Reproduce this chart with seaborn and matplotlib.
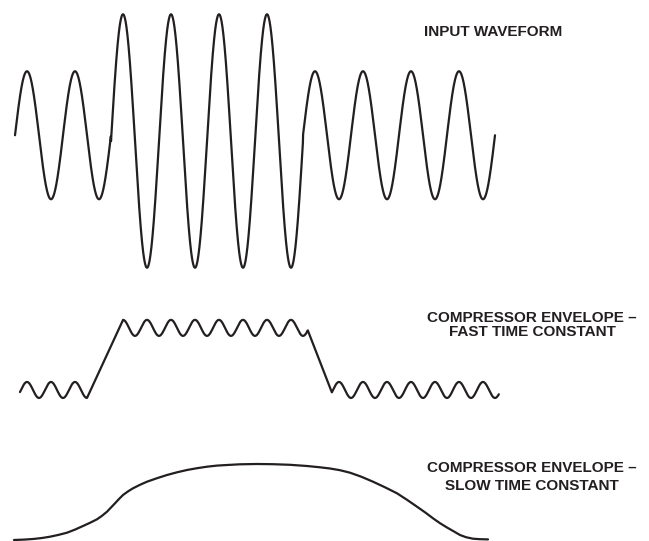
import numpy as np
import pandas as pd
import matplotlib
matplotlib.use("Agg")
import matplotlib.pyplot as plt
import seaborn as sns

# ---------------- data (time in input cycles, level in amplitude units) ----------------
# input waveform: amplitude and centre of each of the 10 cycles
cycle_amp = [1.0, 1.0, 1.98, 1.98, 1.98, 1.98, 1.0, 1.0, 1.0, 1.0]
cycle_centre = [6.34, 6.34, 6.25, 6.25, 6.25, 6.25, 6.34, 6.34, 6.34, 6.34]

# fast envelope: ripple levels and linear ramps
fast_levels = [2.36, 3.33, 2.36]          # low, high, low
fast_ripple = 0.125
fast_ramp_start = [1.5, 6.1]
fast_ramp_end = [2.25, 6.6]
fast_t_range = [0.104, 10.08]

# slow envelope points (pixel x / y)
slow_px_x = [14, 24, 33, 42, 50, 58, 67, 75, 83, 90, 97, 102, 107, 111, 115, 119,
             123, 128, 133, 140, 147, 157, 167, 177, 187, 197, 207, 217, 227, 240,
             257, 273, 290, 307, 320, 330, 340, 350, 361, 373, 385, 397, 407, 417,
             425, 433, 440, 447, 454, 460, 466, 473, 480, 488]
slow_px_y = [540, 539.6, 539, 538, 536.7, 535, 532.7, 529.6, 526, 522.8, 519.3,
             515.8, 511.7, 507.5, 503.3, 499, 495, 491.4, 488.3, 484.8, 481.7,
             478.2, 475, 472.3, 470, 468.2, 466.7, 465.6, 465, 464.3,
             464, 464.2, 464.8, 466, 467.3, 468.5, 470.2, 472.7, 476.6, 481.7,
             487.3, 493.3, 499.8, 506.7, 512.3, 518.3, 523.2, 527.5, 531.5, 535,
             537.2, 538.7, 539.2, 539.4]

labels = ["INPUT WAVEFORM",
          "COMPRESSOR ENVELOPE \u2013", "FAST TIME CONSTANT",
          "COMPRESSOR ENVELOPE \u2013", "SLOW TIME CONSTANT"]

W, H = 649, 541
PX_PER_CYCLE, PX_PER_UNIT, X0 = 48, 64, 15

# ---------------- build curves ----------------
t_in = np.linspace(0, 10, 4001)
idx = np.minimum(np.floor(t_in).astype(int), 9)
amp = np.array(cycle_amp)[idx]
cen = np.array(cycle_centre)[idx]
y_in = cen + amp * np.sin(2 * np.pi * t_in)
df_in = pd.DataFrame({"t": t_in, "y": y_in})


def fast_level_at(t, lvl):
    return lvl + fast_ripple * np.sin(4 * np.pi * t - np.pi / 2)


t_f = np.linspace(fast_t_range[0], fast_t_range[1], 4001)
y_f = np.empty_like(t_f)
m = t_f < fast_ramp_start[0]
y_f[m] = fast_level_at(t_f[m], fast_levels[0])
m = (t_f > fast_ramp_end[0]) & (t_f < fast_ramp_start[1])
y_f[m] = fast_level_at(t_f[m], fast_levels[1])
m = t_f > fast_ramp_end[1]
y_f[m] = fast_level_at(t_f[m], fast_levels[2])
lv_pairs = [(fast_levels[0], fast_levels[1]), (fast_levels[1], fast_levels[2])]
for (a, b), (l0, l1) in zip(zip(fast_ramp_start, fast_ramp_end), lv_pairs):
    m = (t_f >= a) & (t_f <= b)
    y0 = fast_level_at(a, l0)
    y1 = fast_level_at(b, l1)
    y_f[m] = y0 + (y1 - y0) * (t_f[m] - a) / (b - a)
df_f = pd.DataFrame({"t": t_f, "y": y_f})

df_s = pd.DataFrame({"t": (np.array(slow_px_x) - X0) / PX_PER_CYCLE,
                     "y": (H - np.array(slow_px_y)) / PX_PER_UNIT})

# ---------------- plot ----------------
sns.set_theme(style="white")
plt.rcParams["font.family"] = ["Liberation Sans", "DejaVu Sans"]

fig = plt.figure(figsize=(W / 100, H / 100), dpi=100)
ax = fig.add_axes([0, 0, 1, 1])
ink = "#231f20"
for d in (df_in, df_f, df_s):
    sns.lineplot(data=d, x="t", y="y", ax=ax, sort=False, estimator=None,
                 color=ink, linewidth=1.6)

ax.set_xlim(-X0 / PX_PER_CYCLE, (W - X0) / PX_PER_CYCLE)
ax.set_ylim(0, H / PX_PER_UNIT)
ax.axis("off")

fs = 11
fig.text(424 / W, 1 - 31.5 / H, labels[0], ha="left", va="center",
         fontsize=fs, fontweight="bold", color=ink)
fig.text(532 / W, 1 - 317.5 / H, labels[1], ha="center", va="center",
         fontsize=fs, fontweight="bold", color=ink)
fig.text(532 / W, 1 - 332 / H, labels[2], ha="center", va="center",
         fontsize=fs, fontweight="bold", color=ink)
fig.text(532 / W, 1 - 468 / H, labels[3], ha="center", va="center",
         fontsize=fs, fontweight="bold", color=ink)
fig.text(532 / W, 1 - 485.5 / H, labels[4], ha="center", va="center",
         fontsize=fs, fontweight="bold", color=ink)

fig.savefig("out.png", dpi=100, facecolor="white")
